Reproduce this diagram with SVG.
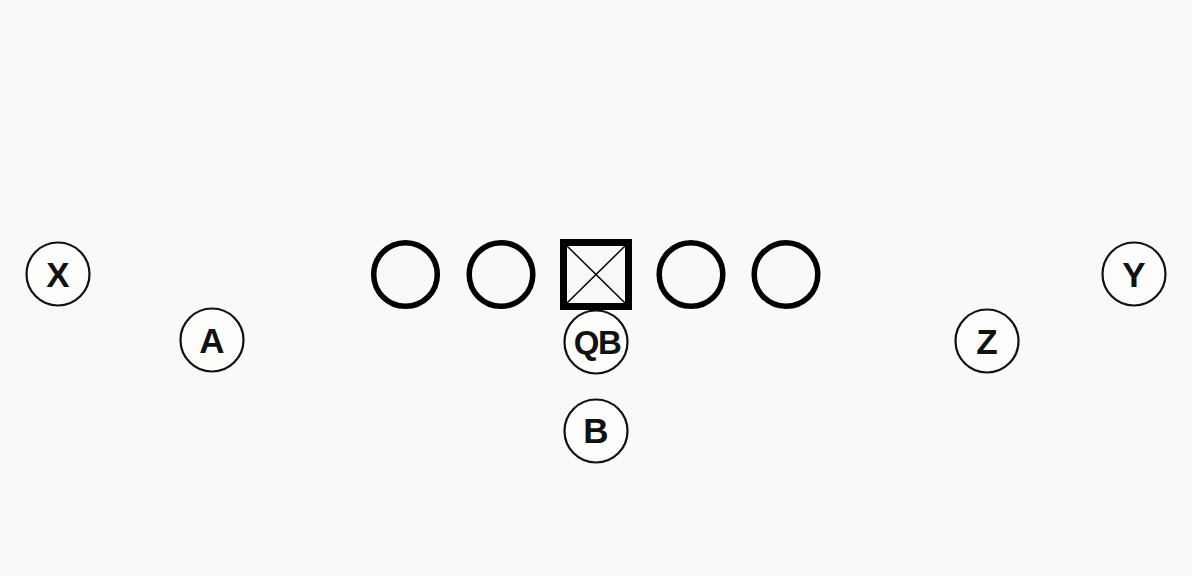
<svg xmlns="http://www.w3.org/2000/svg" width="1192" height="576" viewBox="0 0 1192 576">
<style>
.lin{fill:none;stroke:#000;stroke-width:5.5}
.sk{fill:#fdfdfc;stroke:#111;stroke-width:2.2}
.lb{font-family:"Liberation Sans",Arial,sans-serif;font-weight:bold;font-size:35px;fill:#111;text-anchor:middle}
</style>
<rect width="1192" height="576" fill="#faf9f7"/>
<g id="lt1"><circle class="lin" cx="405.5" cy="274.5" r="31.8"/></g>
<g id="lg1"><circle class="lin" cx="501" cy="274.5" r="31.8"/></g>
<g id="center">
<rect x="563.5" y="242.5" width="65" height="64" fill="none" stroke="#000" stroke-width="7"/>
<line x1="567" y1="246" x2="625" y2="303" stroke="#000" stroke-width="1.5"/>
<line x1="625" y1="246" x2="567" y2="303" stroke="#000" stroke-width="1.5"/>
</g>
<g id="rg1"><circle class="lin" cx="691" cy="274.5" r="31.8"/></g>
<g id="rt1"><circle class="lin" cx="786" cy="274.5" r="31.8"/></g>
<g id="qb"><circle class="sk" cx="596" cy="342" r="31.5"/><text class="lb" x="597" y="354" style="font-size:33px;letter-spacing:-1.5px">QB</text></g>
<g id="b"><circle class="sk" cx="596" cy="431" r="31.5"/><text class="lb" x="596" y="443">B</text></g>
<g id="x"><circle class="sk" cx="58" cy="274" r="31.5"/><text class="lb" x="58" y="286.5">X</text></g>
<g id="a"><circle class="sk" cx="212" cy="340" r="31.5"/><text class="lb" x="212" y="352.5">A</text></g>
<g id="z"><circle class="sk" cx="987" cy="341" r="31.5"/><text class="lb" x="987" y="353.5">Z</text></g>
<g id="y"><circle class="sk" cx="1134" cy="274" r="31.5"/><text class="lb" x="1134" y="286.5">Y</text></g>
<g id="connectors"></g>
</svg>
